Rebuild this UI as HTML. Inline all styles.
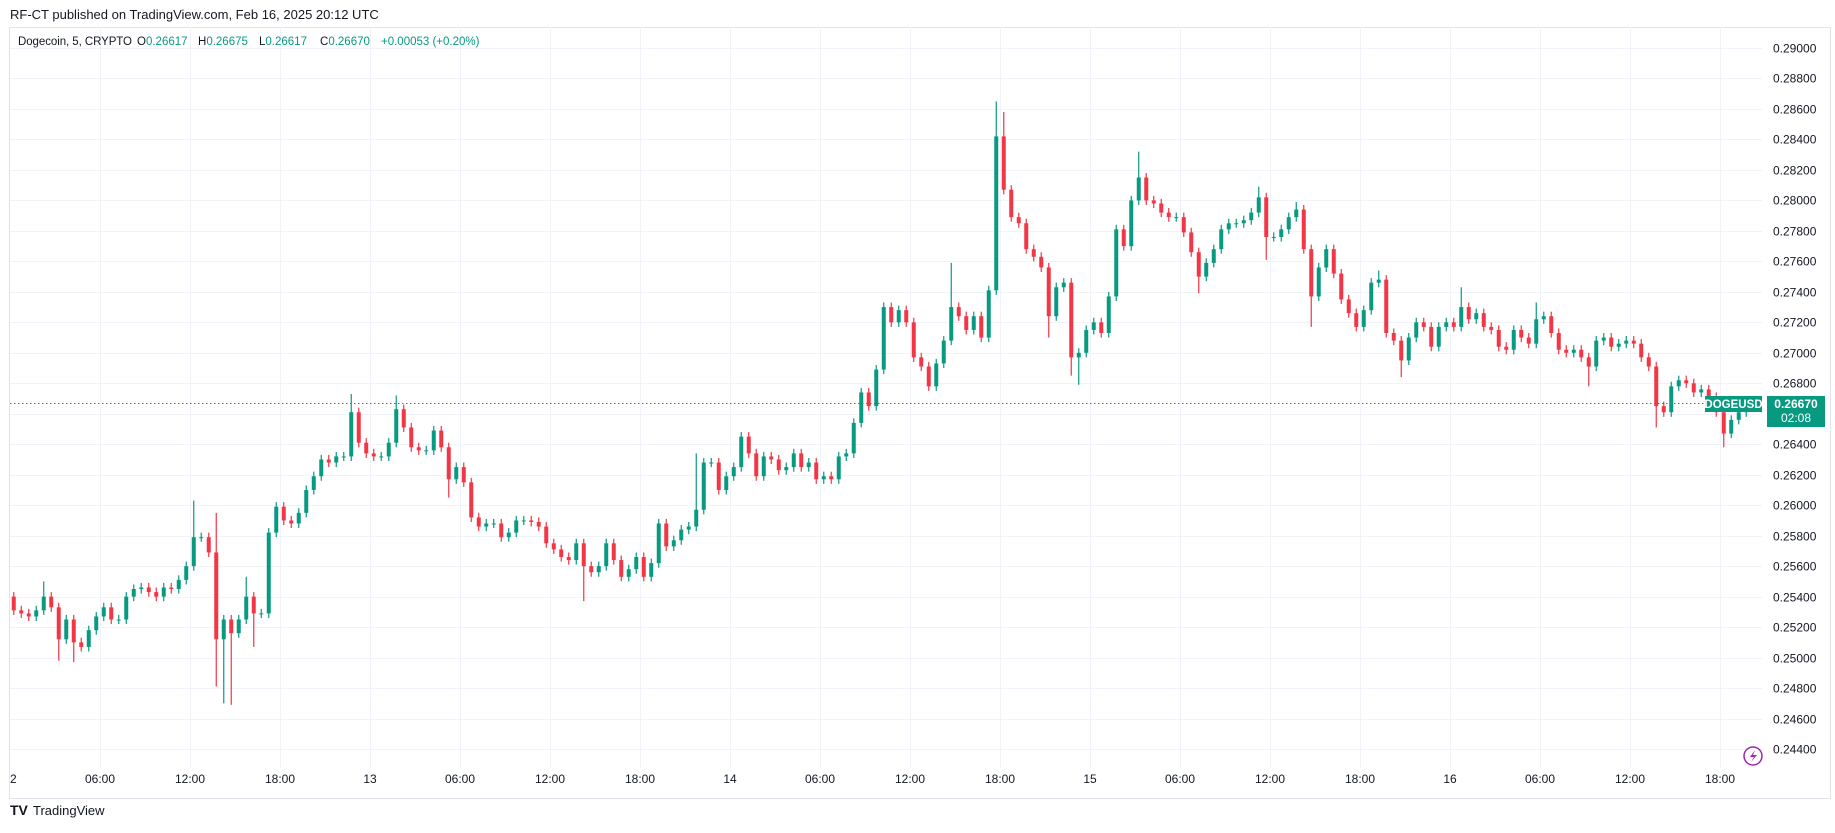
<!DOCTYPE html>
<html><head><meta charset="utf-8">
<style>
html,body{margin:0;padding:0;background:#fff;}
body{width:1835px;height:828px;overflow:hidden;font-family:"Liberation Sans",sans-serif;color:#131722;}
svg text{font-family:"Liberation Sans",sans-serif;}
</style></head>
<body>
<svg id="chart" width="1835" height="828" xmlns="http://www.w3.org/2000/svg">
  <text x="10" y="19" font-size="13" fill="#131722">RF-CT published on TradingView.com, Feb 16, 2025 20:12 UTC</text>
  <rect x="9.5" y="27.5" width="1821" height="771" fill="#fff" stroke="#e0e3eb"/>
  <g id="grid"></g>
  <g id="candles"></g>
  <line id="lastline" x1="10" x2="1762" stroke="#089981" stroke-width="1" stroke-dasharray="1.5,2.5"/>
  <g id="yaxis"></g>
  <g id="xaxis"></g>
  <g font-size="11.5">
    <text x="18" y="45" fill="#131722" textLength="114">Dogecoin, 5, CRYPTO</text>
    <text x="137" y="45" fill="#131722">O<tspan fill="#089981">0.26617</tspan></text>
    <text x="198" y="45" fill="#131722">H<tspan fill="#089981">0.26675</tspan></text>
    <text x="259" y="45" fill="#131722">L<tspan fill="#089981">0.26617</tspan></text>
    <text x="320" y="45" fill="#131722">C<tspan fill="#089981">0.26670</tspan></text>
    <text x="381" y="45" fill="#089981">+0.00053 (+0.20%)</text>
  </g>
  <g>
    <rect x="1705" y="396" width="57" height="16" fill="#089981"/>
    <text x="1733.5" y="408" font-size="11.5" fill="#fff" text-anchor="middle" font-weight="bold">DOGEUSD</text>
  </g>
  <g>
    <rect x="1767" y="396" width="58" height="31" fill="#089981"/>
    <text x="1796" y="408" font-size="12" fill="#fff" text-anchor="middle" font-weight="bold">0.26670</text>
    <text x="1796" y="422" font-size="12" fill="#fff" text-anchor="middle">02:08</text>
  </g>
  <g>
    <circle cx="1753" cy="756" r="9" fill="#fff" stroke="#9c27b0" stroke-width="1.5"/>
    <path d="M1755 750 L1750 757 L1754 757 L1751 762 L1757 755 L1753 755 Z" fill="#9c27b0"/>
  </g>
  <g>
    <text x="10" y="815" font-size="14" font-weight="bold" fill="#131722">TV</text>
    <text x="33" y="815" font-size="13" fill="#131722">TradingView</text>
  </g>
</svg>
<script>
const priceTicks=[0.244,0.246,0.248,0.250,0.252,0.254,0.256,0.258,0.260,0.262,0.264,0.266,0.268,0.270,0.272,0.274,0.276,0.278,0.280,0.282,0.284,0.286,0.288,0.290];
const timeLabels=["2","06:00","12:00","18:00","13","06:00","12:00","18:00","14","06:00","12:00","18:00","15","06:00","12:00","18:00","16","06:00","12:00","18:00"];
const firstOpen=0.2540;
const closes=[
.2531,.2529,.2527,.2531,.2540,.2533,.2512,.2525,.2510,.2507,.2518,.2527,.2533,.2525,.2525,.2540,.2545,.2546,.2543,.2540,.2546,.2545,.2551,.2560,.2579,.2579,.2569,.2512,.2525,.2516,.2525,.2540,.2529,.2529,.2582,.2599,.2590,.2588,.2595,.2610,.2619,.2630,.2628,.2632,.2632,.2661,.2641,.2634,.2632,.2632,.2641,.2663,.2651,.2638,.2636,.2636,.2649,.2638,.2617,.2625,
.2615,.2592,.2586,.2588,.2588,.2579,.2582,.2590,.2590,.2589,.2586,.2575,.2571,.2566,.2564,.2575,.2560,.2556,.2560,.2575,.2564,.2553,.2558,.2566,.2553,.2562,.2588,.2573,.2577,.2584,.2586,.2597,.2628,.2628,.2610,.2619,.2625,.2645,.2634,.2619,.2632,.2630,.2623,.2625,.2634,.2625,.2628,.2617,.2619,.2617,.2632,.2634,.2654,.2674,.2665,.2689,.2730,.2720,.2728,
.2720,.2697,.2691,.2678,.2693,.2708,.2730,.2724,.2715,.2724,.2710,.2741,.2842,.2807,.2789,.2785,.2768,.2763,.2756,.2724,.2743,.2746,.2697,.2700,.2715,.2720,.2713,.2737,.2781,.2770,.2800,.2815,.2800,.2798,.2792,.2789,.2789,.2779,.2766,.2750,.2759,.2768,.2781,.2785,.2785,.2787,.2792,.2802,.2776,.2776,.2781,.2789,.2794,.2768,.2737,.2756,.2768,.2752,.2735,
.2726,.2717,.2728,.2746,.2748,.2713,.2708,.2695,.2710,.2720,.2717,.2704,.2717,.2720,.2717,.2730,.2722,.2726,.2717,.2715,.2704,.2702,.2715,.2710,.2706,.2722,.2724,.2713,.2702,.2700,.2702,.2697,.2691,.2708,.2710,.2704,.2706,.2708,.2706,.2697,.2691,.2665,.2661,.2678,.2682,.2680,.2674,.2676,.2671,.2661,.2647,.2656,.2661,.2665,.2667
];
const extremeIdx=[4,6,8,24,27,28,29,31,32,45,51,58,76,91,125,131,132,138,141,142,150,158,166,167,171,173,182,185,193,203,210,219,228];
const extremeHigh=[0.2550,null,null,0.2603,0.2595,null,null,0.2553,null,0.2673,0.2672,null,null,0.2634,0.2759,0.2865,0.2858,null,null,null,0.2832,null,0.2809,null,0.2799,null,0.2754,null,0.2743,0.2733,null,null,null];
const extremeLow=[null,0.2498,0.2497,null,0.2481,0.2470,0.2469,null,0.2507,null,null,0.2605,0.2537,null,null,null,null,0.2710,0.2685,0.2679,null,0.2739,null,0.2761,null,0.2717,null,0.2684,null,null,0.2678,0.2651,0.2638];
const wickPad=0.0003;

const NS="http://www.w3.org/2000/svg";
const PL=10,PR=1762,PT=27,PB=768;
function yOf(p){return 48+(0.29-p)/0.002*30.48;}
function xOfIdx(i){return 13.75+7.5*i;}
function xOfLabel(k){return 10+90*k;}
function mk(tag,attrs,parent){const e=document.createElementNS(NS,tag);for(const k in attrs)e.setAttribute(k,attrs[k]);parent.appendChild(e);return e;}

const grid=document.getElementById('grid');
const yaxis=document.getElementById('yaxis');
const xaxis=document.getElementById('xaxis');
priceTicks.forEach(p=>{
  const y=Math.round(yOf(p))+0.5;
  const l=mk('line',{x1:PL,x2:PR,y1:y,y2:y,stroke:'#f0f3fa','stroke-width':1},grid);
  
  
  const t=mk('text',{x:1773,y:y+4,'font-size':12,fill:'#131722'},yaxis);
  t.textContent=p.toFixed(5);
  
  
});
timeLabels.forEach((s,k)=>{
  const x=xOfLabel(k);
  if(k>0){
    const l=mk('line',{x1:x+0.5,x2:x+0.5,y1:PT,y2:PB,stroke:'#f0f3fa','stroke-width':1},grid);
    
    
  }
  const t=mk('text',{x:k===0?10:x,y:783,'font-size':12,fill:'#131722','text-anchor':k===0?'start':'middle'},xaxis);
  t.textContent=s;
  
  
});
const ll=document.getElementById('lastline');
const ly=Math.round(yOf(closes[closes.length-1]))+0.5;
ll.setAttribute('y1',ly);ll.setAttribute('y2',ly);

const cg=document.getElementById('candles');
closes.forEach((c,i)=>{
  const o=i===0?firstOpen:closes[i-1];
  let hi=Math.max(o,c)+wickPad, lo=Math.min(o,c)-wickPad;
  const ei=extremeIdx.indexOf(i);
  if(ei>=0){ if(extremeHigh[ei]!==null) hi=Math.max(hi,extremeHigh[ei]); if(extremeLow[ei]!==null) lo=Math.min(lo,extremeLow[ei]); }
  const up=c>=o, col=up?'#089981':'#f23645';
  const x=xOfIdx(i);
  const g=mk('g',{},cg);
  
  
  mk('line',{x1:x,x2:x,y1:yOf(hi),y2:yOf(lo),stroke:col,'stroke-width':1.2},g);
  const yt=yOf(Math.max(o,c)), yb=yOf(Math.min(o,c));
  mk('rect',{x:x-2,y:yt,width:4,height:Math.max(1,yb-yt),fill:col},g);
});
</script>
</body></html>
